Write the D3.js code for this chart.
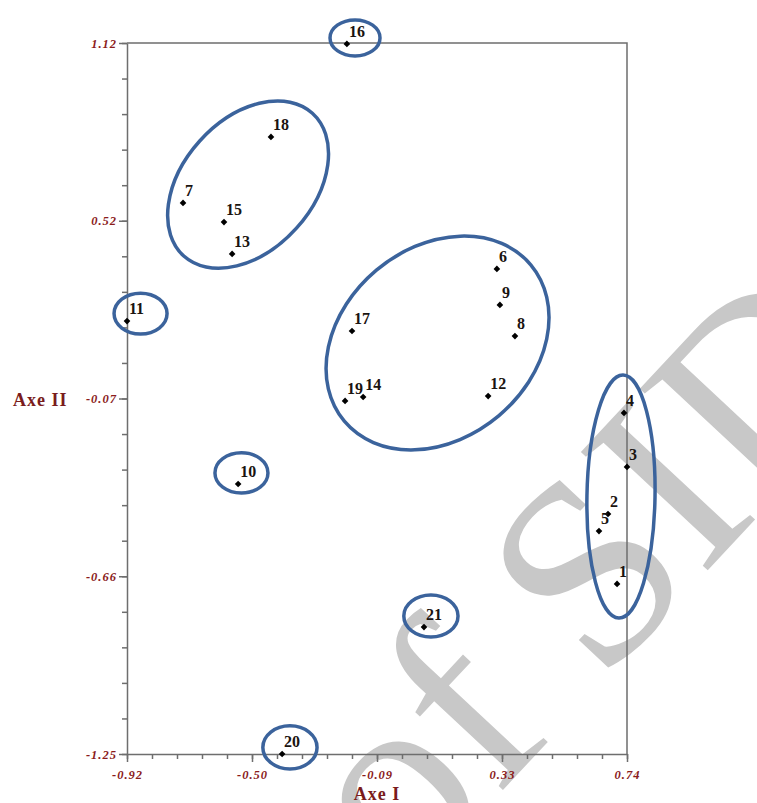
<!DOCTYPE html>
<html>
<head>
<meta charset="utf-8">
<script src="https://cdn.jsdelivr.net/npm/d3@7"></script>
<style>
  body { margin: 0; background: #fff; }
  svg { display: block; }
</style>
</head>
<body>
<svg id="chart" width="757" height="803"></svg>
<script>
// individuals (labels) and their coordinates on the two factorial axes
const ids   = [1, 2, 3, 4, 5, 6, 7, 8, 9, 10, 11, 12, 13, 14, 15, 16, 17, 18, 19, 20, 21];
const axe1  = [0.707, 0.677, 0.740, 0.730, 0.647, 0.308, -0.734, 0.368, 0.318, -0.551, -0.920,
               0.279, -0.571, -0.136, -0.598, -0.190, -0.173, -0.442, -0.196, -0.405, 0.066];
const axe2  = [-0.683, -0.450, -0.293, -0.113, -0.507, 0.367, 0.587, 0.143, 0.247, -0.350, 0.193,
               -0.057, 0.417, -0.060, 0.523, 1.117, 0.160, 0.807, -0.073, -1.250, -0.827];

const xTickLabels = ['-0.92', '-0.50', '-0.09', '0.33', '0.74'];
const yTickLabels = ['-1.25', '-0.66', '-0.07', '0.52', '1.12'];

// groups drawn by hand on the figure (centre in axis units, radii in axis units, tilt in degrees)
const groupCx    = [-0.163, -0.518, 0.111, -0.875, -0.540, 0.720, 0.089, -0.379];
const groupCy    = [1.137, 0.648, 0.120, 0.218, -0.313, -0.392, -0.790, -1.228];
const groupRx    = [0.083, 0.319, 0.404, 0.088, 0.088, 0.113, 0.090, 0.090];
const groupRy    = [0.060, 0.217, 0.317, 0.068, 0.067, 0.405, 0.070, 0.072];
const groupAngle = [0, -48, -40, 0, 0, 1, 0, 0];

const xMin = -0.92, xMax = 0.74, yMin = -1.25, yMax = 1.12;

const svg = d3.select('#chart');
const x = d3.scaleLinear().domain([xMin, xMax]).range([127, 627]);
const y = d3.scaleLinear().domain([yMin, yMax]).range([754, 43]);
const kx = x(1) - x(0), ky = y(0) - y(1);

const red = '#8b1c1c';
const serif = '"Liberation Serif", "Times New Roman", serif';

// watermark of the source document, behind everything
svg.append('text')
    .attr('transform', 'translate(405,895) rotate(-47)')
    .attr('font-family', serif)
    .attr('font-size', 265)
    .attr('fill', '#c8c8c8')
    .text('of SID');

const majorX = d3.range(5).map(i => xMin + i * (xMax - xMin) / 4);
const majorY = d3.range(5).map(i => yMin + i * (yMax - yMin) / 4);
const minorX = d3.range(21).map(i => xMin + i * (xMax - xMin) / 20);
const minorY = d3.range(21).map(i => yMin + i * (yMax - yMin) / 20);

// frame (top and right)
svg.append('path')
    .attr('d', 'M' + x(xMin) + ',' + y(yMax) + 'H' + x(xMax) + 'V' + y(yMin))
    .attr('fill', 'none')
    .attr('stroke', '#6e6e6e')
    .attr('stroke-width', 1.5);

// minor ticks
svg.append('g')
    .attr('transform', 'translate(0,' + y(yMin) + ')')
    .call(d3.axisBottom(x).tickValues(minorX).tickSize(5).tickFormat(''))
    .call(g => g.select('.domain').remove());
svg.append('g')
    .attr('transform', 'translate(' + x(xMin) + ',0)')
    .call(d3.axisLeft(y).tickValues(minorY).tickSize(5).tickFormat(''))
    .call(g => g.select('.domain').remove());

// major axes
const xAxis = svg.append('g')
    .attr('transform', 'translate(0,' + y(yMin) + ')')
    .call(d3.axisBottom(x).tickValues(majorX).tickSize(8).tickSizeOuter(0).tickPadding(8)
        .tickFormat((d, i) => xTickLabels[i]));
const yAxis = svg.append('g')
    .attr('transform', 'translate(' + x(xMin) + ',0)')
    .call(d3.axisLeft(y).tickValues(majorY).tickSize(8).tickSizeOuter(0).tickPadding(2)
        .tickFormat((d, i) => yTickLabels[i]));

[xAxis, yAxis].forEach(g => {
    g.selectAll('.domain, line').attr('stroke', '#6e6e6e').attr('stroke-width', 1.5);
    g.selectAll('text')
        .attr('fill', red)
        .attr('font-family', serif)
        .attr('font-style', 'italic')
        .attr('font-weight', 'bold')
        .attr('font-size', 12.5)
        .attr('letter-spacing', 1);
});
svg.selectAll('.tick line').attr('stroke', '#6e6e6e').attr('stroke-width', 1.5);

// axis titles
svg.append('text')
    .attr('x', (x(xMin) + x(xMax)) / 2)
    .attr('y', 800)
    .attr('text-anchor', 'middle')
    .attr('font-family', serif)
    .attr('font-weight', 'bold')
    .attr('font-size', 18)
    .attr('letter-spacing', 1)
    .attr('fill', '#7a1c1c')
    .text('Axe I');
svg.append('text')
    .attr('x', 13)
    .attr('y', y(-0.065) + 7)
    .attr('font-family', serif)
    .attr('font-weight', 'bold')
    .attr('font-size', 18)
    .attr('letter-spacing', 1)
    .attr('fill', '#7a1c1c')
    .text('Axe II');

// group ellipses
const groups = d3.range(groupCx.length);
svg.append('g').selectAll('ellipse')
    .data(groups)
    .join('ellipse')
    .attr('transform', i => 'translate(' + x(groupCx[i]) + ',' + y(groupCy[i]) + ') rotate(' + groupAngle[i] + ')')
    .attr('rx', i => groupRx[i] * kx)
    .attr('ry', i => groupRy[i] * ky)
    .attr('fill', 'none')
    .attr('stroke', '#3b639c')
    .attr('stroke-width', 3.5);

// points
const pts = ids.map((id, i) => ({ id: id, a: axe1[i], b: axe2[i] }));
const diamond = d3.symbol(d3.symbolSquare, 22);
svg.append('g').selectAll('path')
    .data(pts)
    .join('path')
    .attr('d', diamond)
    .attr('transform', d => 'translate(' + x(d.a) + ',' + y(d.b) + ') rotate(45)')
    .attr('fill', '#000');

svg.append('g').selectAll('text')
    .data(pts)
    .join('text')
    .attr('x', d => x(d.a) + 2)
    .attr('y', d => y(d.b) - 7)
    .attr('font-family', serif)
    .attr('font-weight', 'bold')
    .attr('font-size', 16)
    .attr('fill', '#1a1410')
    .text(d => d.id);
</script>
</body>
</html>
